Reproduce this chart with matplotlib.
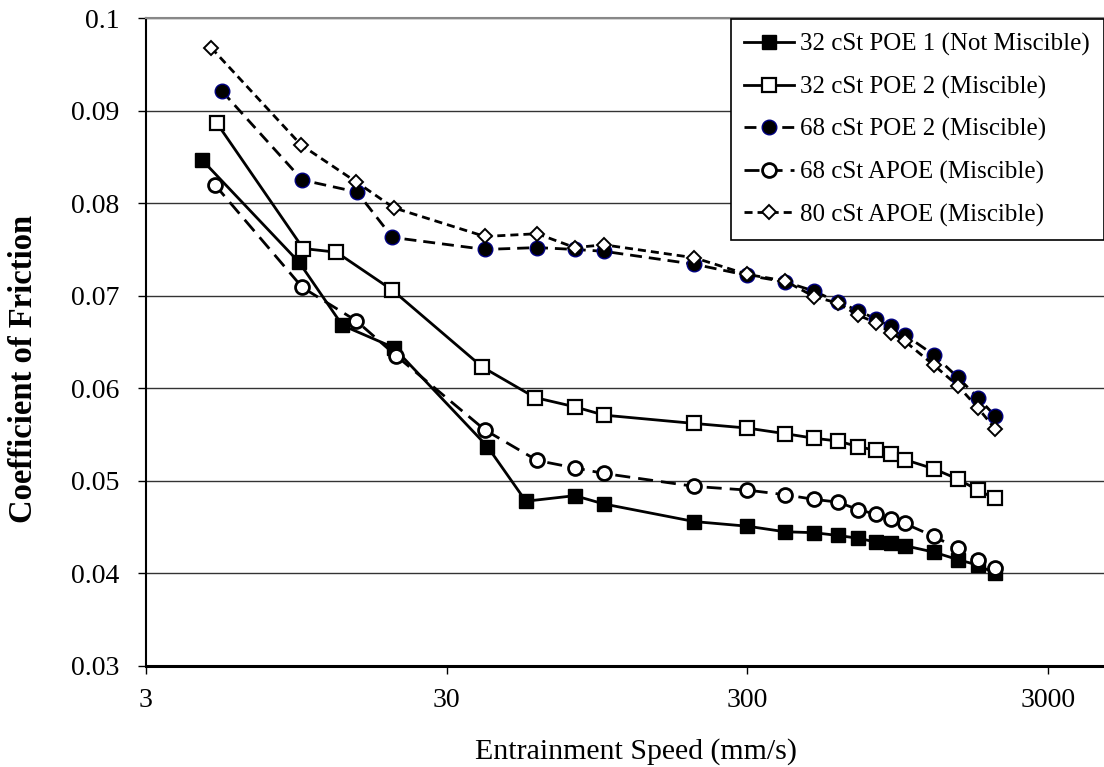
import matplotlib
matplotlib.use("Agg")
import matplotlib.pyplot as plt
from matplotlib.ticker import FixedLocator, FuncFormatter, NullLocator

plt.rcParams["font.family"] = ["Liberation Serif", "DejaVu Serif"]

# entrainment speed (mm/s) shared by all oils above 60 mm/s
high_speeds = [80, 100, 200, 300, 400, 500, 600, 700, 800, 900, 1000, 1250, 1500, 1750, 2000]

poe1_32_x = [4.6, 9.7, 13.5, 20, 41, 55] + high_speeds
poe1_32_y = [0.0847, 0.0736, 0.0668, 0.0644, 0.0537, 0.0478, 0.0484, 0.0475, 0.0456, 0.0451,
             0.0445, 0.0444, 0.0441, 0.0438, 0.0434, 0.0433, 0.0430, 0.0423, 0.0415, 0.0409, 0.0400]

poe2_32_x = [5.15, 10, 12.9, 19.8, 39.4, 59] + high_speeds
poe2_32_y = [0.0887, 0.0751, 0.0747, 0.0706, 0.0623, 0.0590, 0.0580, 0.0571, 0.0562, 0.0557,
             0.0551, 0.0546, 0.0543, 0.0537, 0.0533, 0.0529, 0.0523, 0.0513, 0.0502, 0.0490, 0.0481]

poe2_68_x = [5.37, 9.93, 15.1, 19.8, 40.2, 60] + high_speeds
poe2_68_y = [0.0921, 0.0825, 0.0812, 0.0763, 0.0750, 0.0752, 0.0750, 0.0748, 0.0734, 0.0722,
             0.0715, 0.0705, 0.0693, 0.0684, 0.0675, 0.0667, 0.0658, 0.0636, 0.0612, 0.0590, 0.0570]

apoe_68_x = [5.08, 9.93, 15.0, 20.4, 40.2, 60] + high_speeds
apoe_68_y = [0.0820, 0.0709, 0.0673, 0.0635, 0.0555, 0.0522, 0.0514, 0.0508, 0.0494, 0.0490,
             0.0485, 0.0480, 0.0477, 0.0469, 0.0464, 0.0459, 0.0454, 0.0440, 0.0427, 0.0415, 0.0406]

apoe_80_x = [4.94, 9.83, 15.0, 20.0, 40.2, 60] + high_speeds
apoe_80_y = [0.0968, 0.0863, 0.0823, 0.0795, 0.0764, 0.0767, 0.0752, 0.0755, 0.0741, 0.0723,
             0.0716, 0.0699, 0.0692, 0.0679, 0.0671, 0.0660, 0.0651, 0.0625, 0.0603, 0.0579, 0.0556]

x_ticks = [3, 30, 300, 3000]
y_ticks = [0.03, 0.04, 0.05, 0.06, 0.07, 0.08, 0.09, 0.1]

fig = plt.figure(figsize=(11.04, 7.67), dpi=100)
ax = fig.add_axes([0.1322, 0.1317, 0.8678, 0.8448])

lw = 2.0
ax.plot(poe1_32_x, poe1_32_y, color="black", lw=lw, ls="-", marker="s", ms=10,
        mfc="black", mec="black", label="32 cSt POE 1 (Not Miscible)", zorder=3)
ax.plot(poe2_32_x, poe2_32_y, color="black", lw=lw, ls="-", marker="s", ms=10,
        mfc="white", mec="black", mew=1.6, label="32 cSt POE 2 (Miscible)", zorder=3)
ax.plot(poe2_68_x, poe2_68_y, color="black", lw=lw, ls=(0, (4.3, 2.5)), marker="o", ms=10.5,
        mfc="black", mec="#000080", mew=1, label="68 cSt POE 2 (Miscible)", zorder=4)
ax.plot(apoe_68_x, apoe_68_y, color="black", lw=lw, ls=(0, (5.4, 2.9)), marker="o", ms=10,
        mfc="white", mec="black", mew=2, label="68 cSt APOE (Miscible)", zorder=3)
ax.plot(apoe_80_x, apoe_80_y, color="black", lw=lw, ls=(0, (2.9, 1.8)), marker="D", ms=7.5,
        mfc="white", mec="black", mew=1.4, label="80 cSt APOE (Miscible)", zorder=5)

ax.set_xscale("log")
ax.set_xlim(3, 4600)
ax.set_ylim(0.03, 0.1)
ax.xaxis.set_major_locator(FixedLocator(x_ticks))
ax.xaxis.set_minor_locator(NullLocator())
ax.xaxis.set_major_formatter(FuncFormatter(lambda v, p: f"{v:g}"))
ax.yaxis.set_major_locator(FixedLocator(y_ticks))
ax.yaxis.set_major_formatter(FuncFormatter(lambda v, p: f"{v:g}"))
ax.tick_params(axis="both", labelsize=20, direction="out", length=6, width=1, colors="black")
ax.tick_params(axis="x", pad=9.5)
ax.tick_params(axis="y", pad=13)

ax.grid(axis="y", color="#333333", lw=1)
ax.set_axisbelow(True)
ax.spines["right"].set_visible(False)
ax.spines["top"].set_color("#888888")
ax.spines["top"].set_linewidth(1.5)
ax.spines["left"].set_linewidth(1.5)
ax.spines["bottom"].set_linewidth(2.2)

ax.set_xlabel("Entrainment Speed (mm/s)", fontsize=21.5)
ax.xaxis.set_label_coords(0.5115, -0.112)
ax.set_ylabel("Coefficient of Friction", fontsize=23.5, fontweight="bold")
ax.yaxis.set_label_coords(-0.112, 0.459)

leg = ax.legend(loc="upper right", bbox_to_anchor=(1.0, 0.998), fontsize=18,
                frameon=True, fancybox=False, edgecolor="black", framealpha=1,
                handlelength=2.0, handletextpad=0.25, labelspacing=0.78,
                borderaxespad=0.0, borderpad=0.55)
leg.get_frame().set_linewidth(1.2)

fig.savefig("out.png", dpi=100)
